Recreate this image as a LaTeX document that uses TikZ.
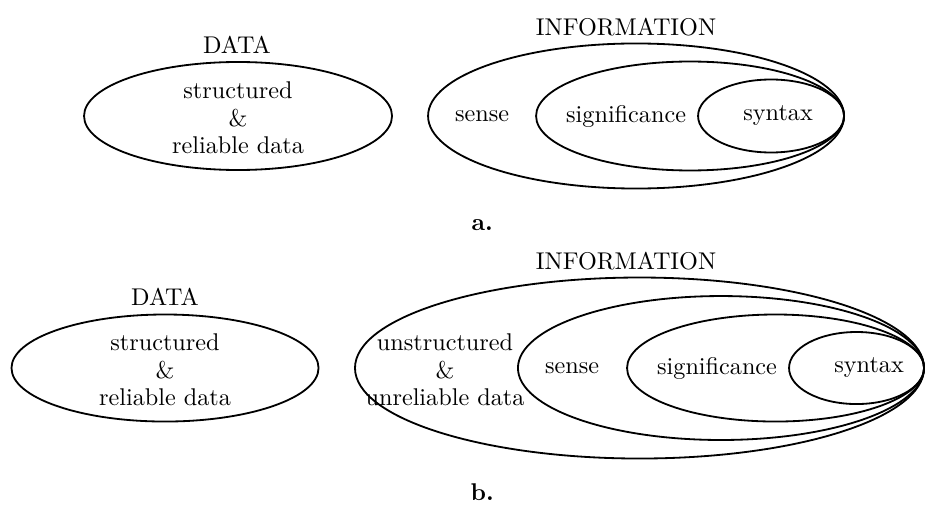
\documentclass[tikz,border=0pt]{standalone}
\tikzset{
  ring/.style={line width=0.75pt},
  txt/.style={align=center, inner sep=0pt, font=\fontsize{10}{11.4}\selectfont},
  caption/.style={inner sep=0pt, font=\bfseries}
}
\begin{document}
\begin{tikzpicture}
  \useasboundingbox (0,0) rectangle (13.43,-7.32);
  % ---- a. ----
  % data ellipse
  \draw[ring] (3.456,-1.684) ellipse (2.236 and 0.784);
  \node[txt] (titleDataA) at (3.44,-0.653) {DATA};
  \node[txt] (dataA) at (3.456,-1.71) {structured\\\&\\reliable data};
  % information: nested ellipses meeting at the right
  \draw[ring] (9.235,-1.684) ellipse (3.02 and 1.053);
  \draw[ring] (10.019,-1.684) ellipse (2.236 and 0.791);
  \draw[ring] (11.195,-1.684) ellipse (1.06 and 0.53);
  \node[txt] (titleInfoA) at (9.09,-0.392) {INFORMATION};
  \node[txt] (senseA) at (7.0,-1.684) {sense};
  \node[txt] (signifA) at (9.09,-1.684) {significance};
  \node[txt] (syntaxA) at (11.297,-1.684) {syntax};
  \node[caption] (capA) at (7.0,-3.267) {a.};
  % ---- b. ----
  % data ellipse
  \draw[ring] (2.396,-5.343) ellipse (2.229 and 0.777);
  \node[txt] (titleDataB) at (2.396,-4.312) {DATA};
  \node[txt] (dataB) at (2.396,-5.372) {structured\\\&\\reliable data};
  % information: four nested ellipses
  \draw[ring] (9.285,-5.343) ellipse (4.131 and 1.314);
  \draw[ring] (10.468,-5.343) ellipse (2.948 and 1.045);
  \draw[ring] (11.26,-5.343) ellipse (2.156 and 0.777);
  \draw[ring] (12.436,-5.343) ellipse (0.98 and 0.523);
  \node[txt] (titleInfoB) at (9.09,-3.79) {INFORMATION};
  \node[txt] (rawB) at (6.461,-5.372) {unstructured\\\&\\unreliable data};
  \node[txt] (senseB) at (8.305,-5.343) {sense};
  \node[txt] (signifB) at (10.411,-5.343) {significance};
  \node[txt] (syntaxB) at (12.618,-5.343) {syntax};
  \node[caption] (capB) at (7.0,-7.15) {b.};
\end{tikzpicture}
\end{document}
